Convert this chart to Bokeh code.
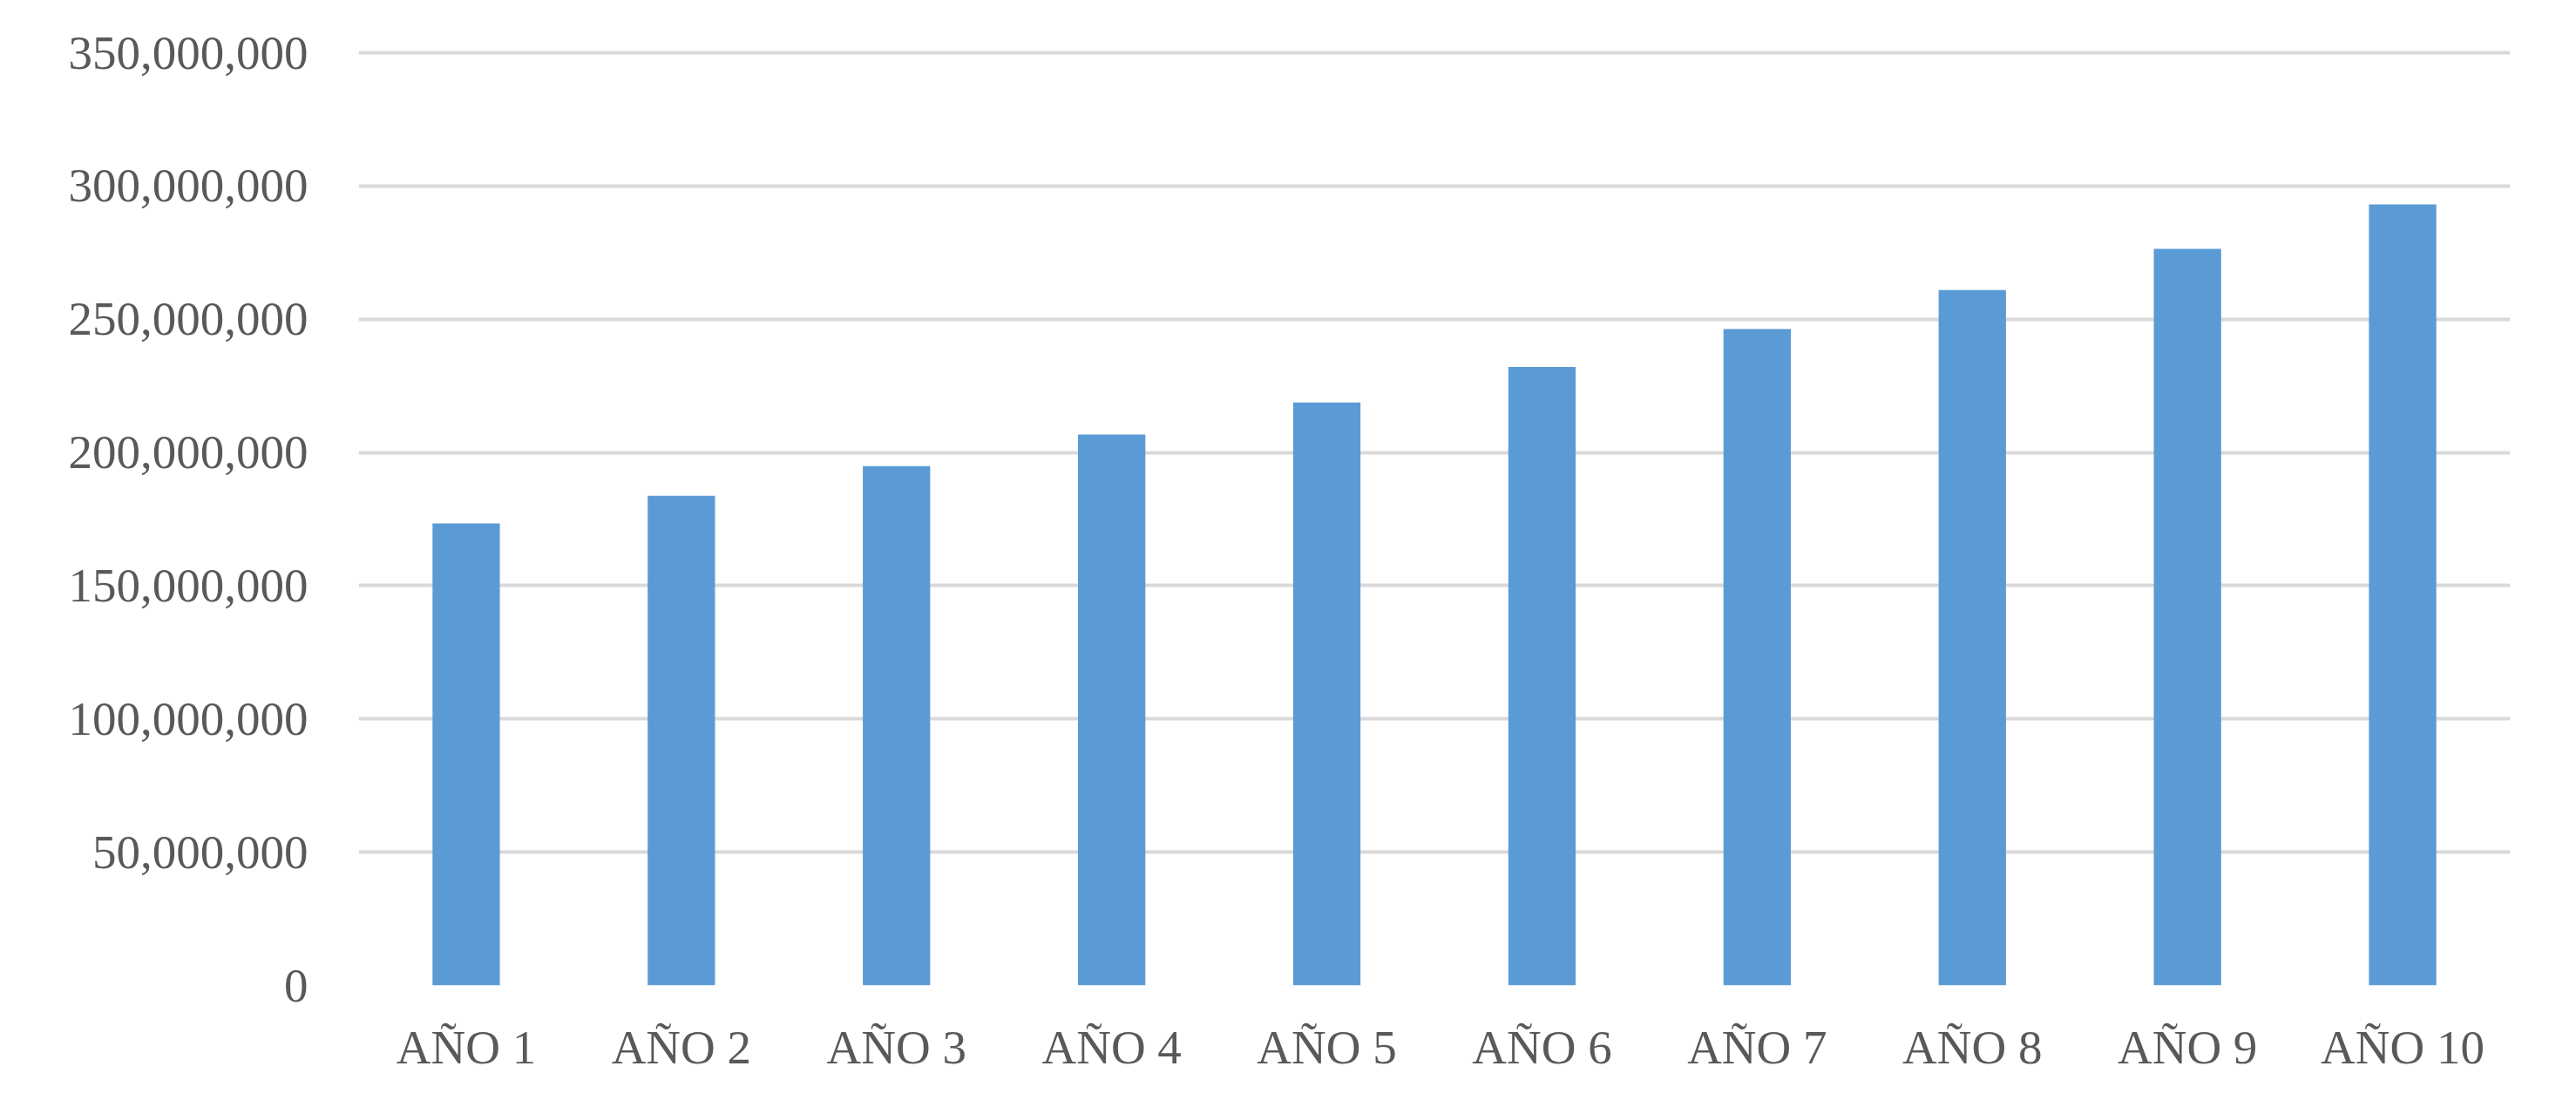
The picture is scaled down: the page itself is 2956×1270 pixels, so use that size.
from bokeh.plotting import figure
from bokeh.models import Range1d, FixedTicker, NumeralTickFormatter, ColumnDataSource
from bokeh.embed import file_html
from bokeh.resources import INLINE

categories = ["AÑO 1", "AÑO 2", "AÑO 3", "AÑO 4", "AÑO 5",
              "AÑO 6", "AÑO 7", "AÑO 8", "AÑO 9", "AÑO 10"]
values = [173.4e6, 183.8e6, 194.9e6, 206.7e6, 218.8e6,
          232.1e6, 246.3e6, 261.0e6, 276.4e6, 293.1e6]
y_ticks = [0, 50e6, 100e6, 150e6, 200e6, 250e6, 300e6, 350e6]

FONT = "Liberation Serif"
TEXT = "#595959"
GRID = "#D9D9D9"
BAR = "#5B9BD5"

src = ColumnDataSource(dict(cat=categories, val=values))

# range end slightly above the top tick so the top gridline is not clipped
p = figure(x_range=categories, y_range=Range1d(0, 351e6),
           width=2940, height=1254, output_backend="svg",
           toolbar_location=None, min_border_left=411, min_border_right=60,
           min_border_top=57, min_border_bottom=124)

p.vbar(x="cat", top="val", width=0.313, source=src, color=BAR, line_color=None)

p.outline_line_color = None
p.xgrid.grid_line_color = None
p.ygrid.grid_line_color = GRID
p.ygrid.grid_line_width = 4
p.ygrid.level = "underlay"

p.yaxis.ticker = FixedTicker(ticks=y_ticks)
p.yaxis.formatter = NumeralTickFormatter(format="0,0")
for ax in (p.xaxis[0], p.yaxis[0]):
    ax.axis_line_color = None
    ax.major_tick_line_color = None
    ax.minor_tick_line_color = None
    ax.major_tick_out = 0
    ax.major_tick_in = 0
    ax.major_label_text_font = FONT
    ax.major_label_text_font_size = "55px"
    ax.major_label_text_color = TEXT
p.yaxis.major_label_standoff = 58
p.xaxis.major_label_standoff = 40

open("out.html", "w").write(file_html(p, INLINE))
